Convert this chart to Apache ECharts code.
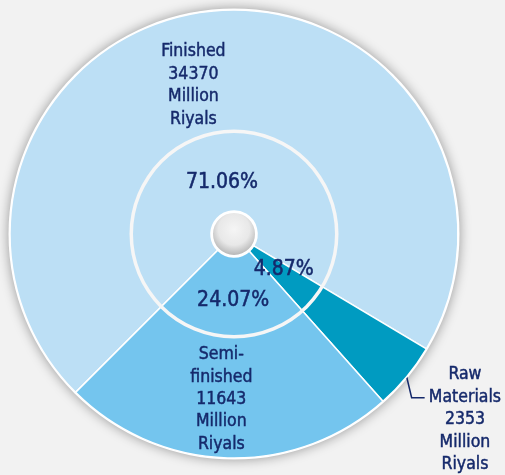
<!DOCTYPE html>
<html>
<head>
<meta charset="utf-8">
<script src="https://cdn.jsdelivr.net/npm/echarts@6/dist/echarts.min.js"></script>
<style>
html,body{margin:0;padding:0;background:#f2f2f2;}
#chart{width:505px;height:475px;}
</style>
</head>
<body>
<div id="chart"></div>
<script>
// Data (clockwise order, starting at lower-left)
var categories = ['Finished', 'Raw Materials', 'Semi-finished'];
var values = [34370, 2353, 11643];
var percentLabels = ['71.06%', '4.87%', '24.07%'];
var unitLabel = 'Million\nRiyals';

var colors = ['#bcdff5', '#009bc1', '#74c5ee'];
var textColor = '#15296b';
var FONT = '"DejaVu Sans Condensed", "DejaVu Sans", sans-serif';
var CENTER = [234, 234];

var nameOffsets = [{dx: -25, dy: -23}, null, {dx: -9, dy: 39}];
var pctOffsets = [{dx: -4, dy: 13}, {dx: 0, dy: -6}, {dx: 1, dy: 2}];

function displayName(n) {
  return n.replace('-', '-\n').replace(' ', '\n');
}

var mainData = categories.map(function (c, i) {
  var d = {name: c, value: values[i], itemStyle: {color: colors[i]}};
  if (i === 1) {
    d.label = {position: 'outside'};
    d.labelLine = {show: true, length: 18, length2: 12, lineStyle: {color: textColor, width: 1.5}};
  }
  return d;
});

var pctData = categories.map(function (c, i) {
  return {name: c, value: values[i]};
});

var chart = echarts.init(document.getElementById('chart'), null, {renderer: 'canvas'});
chart.setOption({
  backgroundColor: '#f2f2f2',
  animation: false,
  series: [
    {
      type: 'pie', silent: true, z: 1,
      center: CENTER, radius: [0, 225.5],
      label: {show: false}, labelLine: {show: false},
      itemStyle: {color: '#ffffff', shadowBlur: 12, shadowColor: 'rgba(0,0,0,0.38)'},
      data: [{value: 1, name: 'base'}]
    },
    {
      type: 'pie', silent: true, z: 2,
      center: CENTER, radius: [23, 224],
      startAngle: 225, clockwise: true,
      avoidLabelOverlap: false,
      itemStyle: {borderColor: '#ffffff', borderWidth: 1.5},
      label: {
        show: true, position: 'inside',
        color: textColor, fontFamily: FONT, fontSize: 17.5, lineHeight: 22.4,
        textBorderColor: textColor, textBorderWidth: 0.45,
        align: 'center',
        formatter: function (p) { return displayName(p.name) + '\n' + p.value + '\n' + unitLabel; }
      },
      labelLine: {show: false},
      labelLayout: function (p) {
        if (p.dataIndex === 1 && p.labelLinePoints) {
          var a = p.labelLinePoints[0];
          var b = [a[0] + 5, a[1] + 21];
          var c = [b[0] + 13, b[1]];
          return {
            x: c[0] + 4 + p.labelRect.width / 2,
            y: c[1] + 22,
            align: 'center', verticalAlign: 'middle',
            labelLinePoints: [a, b, c]
          };
        }
        return nameOffsets[p.dataIndex] || {};
      },
      data: mainData
    },
    {
      type: 'pie', silent: true, z: 3,
      center: CENTER, radius: [101, 104.5],
      label: {show: false}, labelLine: {show: false},
      itemStyle: {color: '#f6f6f6'},
      data: [{value: 1, name: 'ring'}]
    },
    {
      type: 'pie', silent: true, z: 4,
      center: CENTER, radius: [23, 100],
      startAngle: 225, clockwise: true,
      avoidLabelOverlap: false,
      itemStyle: {color: 'rgba(0,0,0,0)'},
      label: {
        show: true, position: 'inside',
        color: textColor, fontFamily: FONT, fontSize: 21,
        textBorderColor: textColor, textBorderWidth: 0.5,
        formatter: function (p) { return percentLabels[p.dataIndex]; }
      },
      labelLine: {show: false},
      labelLayout: function (p) { return pctOffsets[p.dataIndex]; },
      data: pctData
    },
    {
      type: 'pie', silent: true, z: 5,
      center: CENTER, radius: [0, 22],
      label: {show: false}, labelLine: {show: false},
      itemStyle: {
        borderColor: '#ffffff', borderWidth: 2,
        color: new echarts.graphic.RadialGradient(0.5, 0.4, 0.62, [
          {offset: 0, color: '#f5f5f5'},
          {offset: 0.55, color: '#e8e8e8'},
          {offset: 1, color: '#a9a9a9'}
        ])
      },
      data: [{value: 1, name: 'hole'}]
    }
  ]
});
</script>
</body>
</html>
